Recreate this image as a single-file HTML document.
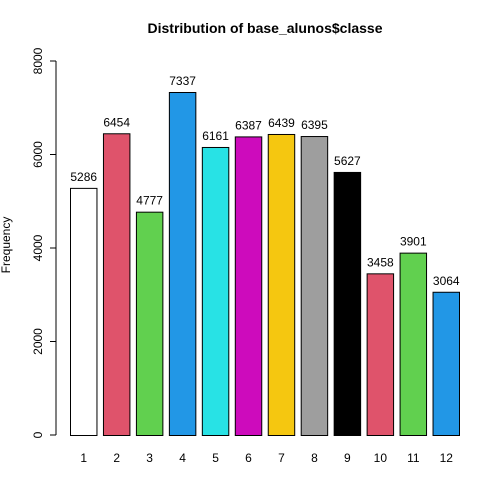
<!DOCTYPE html>
<html><head><meta charset="utf-8"><style>body{margin:0;background:#fff}svg{display:block;font-family:"Liberation Sans",sans-serif}</style></head>
<body>
<svg id="chart" width="504" height="504">
<text x="265" y="33" text-anchor="middle" font-size="14" font-weight="bold">Distribution of base_alunos$classe</text>
<text transform="translate(10,245) rotate(-90)" text-anchor="middle" font-size="12">Frequency</text>
<g id="yaxis"></g>
<g id="bars"></g>
</svg>
<script>
const categories=["1","2","3","4","5","6","7","8","9","10","11","12"];
const values=[5286,6454,4777,7337,6161,6387,6439,6395,5627,3458,3901,3064];
const colors=["#FFFFFF","#DF536B","#61D04F","#2297E6","#28E2E5","#CD0BBC","#F5C710","#9E9E9E","#000000","#DF536B","#61D04F","#2297E6"];
const yTicks=[0,2000,4000,6000,8000];
const NS="http://www.w3.org/2000/svg";
const y0=435,y1=61,yMax=8000;
const y=v=>y0-(v/yMax)*(y0-y1);
const x0=70,x1=460,n=categories.length,w=(x1-x0)/(n+(n-1)*0.2),pitch=w*1.2;
const x=i=>x0+i*pitch;
function mk(t,a,p){const e=document.createElementNS(NS,t);for(const k in a)e.setAttribute(k,a[k]);p.appendChild(e);return e;}
const ya=document.getElementById('yaxis');
const al=mk('line',{x1:56,x2:56,y1:y(yTicks[0]),y2:y(yTicks[yTicks.length-1]),stroke:'#000'},ya);


yTicks.forEach(t=>{
 const tk=mk('line',{x1:50,x2:56,y1:y(t),y2:y(t),stroke:'#000'},ya);
 
 
 const tl=mk('text',{transform:`translate(42,${y(t)}) rotate(-90)`,'text-anchor':'middle','font-size':12},ya);
 tl.textContent=t;
 
 
});
const bg=document.getElementById('bars');
values.forEach((v,i)=>{
 const r=mk('rect',{x:x(i)+0.5,y:y(v)+0.5,width:w-1,height:y(0)-y(v),fill:colors[i],stroke:'#000'},bg);
 
 
 const vl=mk('text',{x:x(i)+w/2,y:y(v)-7,'text-anchor':'middle','font-size':12},bg);
 vl.textContent=v;
 
 
 const cl=mk('text',{x:x(i)+w/2,y:462,'text-anchor':'middle','font-size':12},bg);
 cl.textContent=categories[i];
 
 
});
</script>
</body></html>
